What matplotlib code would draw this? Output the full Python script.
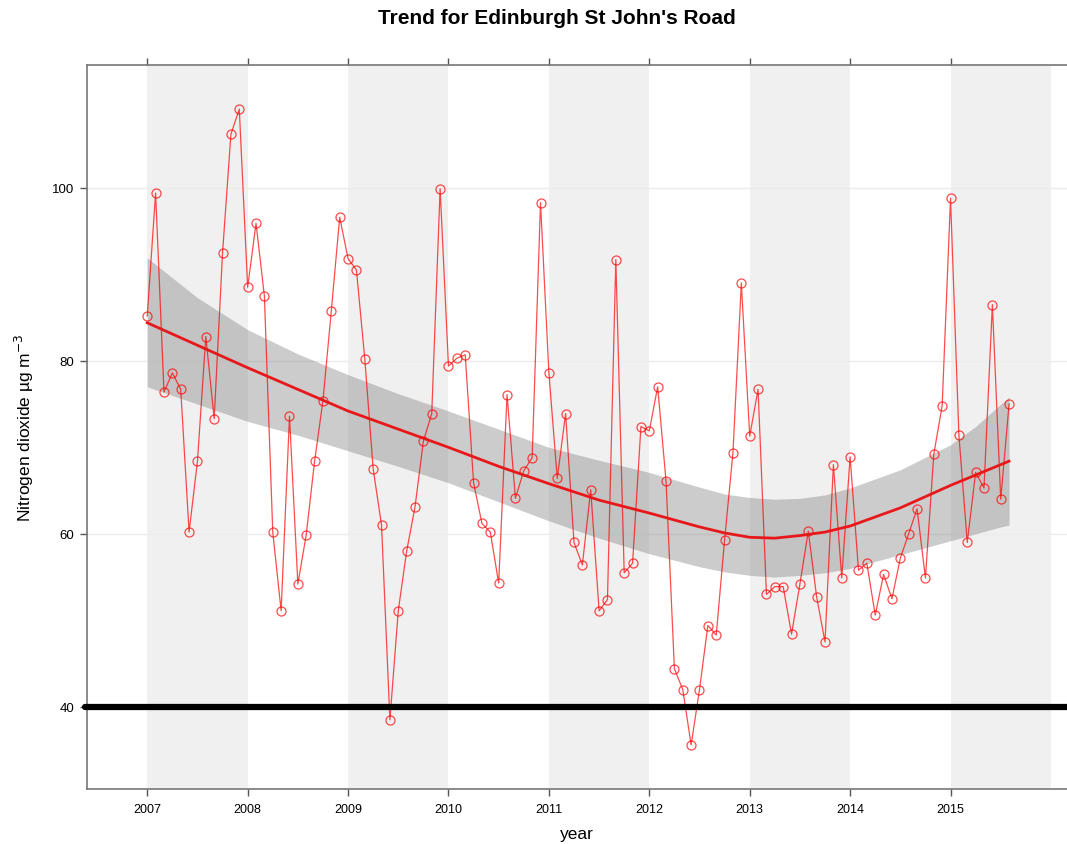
import matplotlib
matplotlib.use("Agg")
import matplotlib.pyplot as plt
import numpy as np

plt.rcParams['font.family'] = ['Liberation Sans', 'DejaVu Sans']

# monthly NO2 means, Jan 2007 .. Aug 2015
no2 = [85.2, 99.4, 76.4, 78.6, 76.7, 60.2, 68.4, 82.8, 73.3, 92.5, 106.2, 109.1,
       88.5, 95.9, 87.5, 60.2, 51.1, 73.6, 54.2, 59.9, 68.4, 75.4, 85.8, 96.6,
       91.8, 90.5, 80.2, 67.5, 61.0, 38.5, 51.1, 58.0, 63.1, 70.7, 73.9, 99.9,
       79.4, 80.3, 80.7, 65.9, 61.2, 60.2, 54.3, 76.1, 64.1, 67.3, 68.8, 98.3,
       78.6, 66.4, 73.9, 59.0, 56.4, 65.1, 51.1, 52.4, 91.7, 55.5, 56.6, 72.4,
       71.9, 77.0, 66.1, 44.4, 42.0, 35.6, 42.0, 49.4, 48.3, 59.3, 69.4, 89.0,
       71.3, 76.7, 53.0, 53.9, 53.9, 48.4, 54.2, 60.3, 52.7, 47.5, 68.0, 54.9,
       68.9, 55.8, 56.6, 50.6, 55.3, 52.5, 57.2, 60.0, 62.9, 54.9, 69.2, 74.8,
       98.8, 71.4, 59.0, 67.1, 65.3, 86.5, 64.0, 75.0]
start_year = 2007

trend_t = [2007.0, 2007.5, 2008.0, 2008.5, 2009.0, 2009.5, 2010.0, 2010.5, 2011.0,
           2011.5, 2012.0, 2012.5, 2012.75, 2013.0, 2013.25, 2013.5, 2013.75, 2014.0,
           2014.5, 2015.0, 2015.25, 2015.5, 2015.583]
trend = [84.4, 81.8, 79.2, 76.7, 74.2, 72.1, 70.0, 67.8, 65.8,
         63.9, 62.4, 60.8, 60.1, 59.6, 59.5, 59.8, 60.2, 60.9,
         63.0, 65.6, 66.8, 68.0, 68.4]
upper = [91.9, 87.3, 83.6, 80.8, 78.4, 76.2, 74.2, 72.1, 70.0,
         68.5, 67.1, 65.4, 64.6, 64.2, 64.0, 64.1, 64.5, 65.3,
         67.4, 70.3, 72.4, 75.0, 75.8]
lower = [77.0, 75.0, 73.0, 71.4, 69.6, 67.8, 65.9, 63.7, 61.5,
         59.5, 57.7, 56.2, 55.6, 55.2, 55.0, 55.2, 55.5, 56.0,
         57.6, 59.2, 60.0, 60.8, 61.0]

years = list(range(2007, 2016))
yticks = [40, 60, 80, 100]
limit = 40

t = start_year + np.arange(len(no2)) / 12.0

fig = plt.figure(figsize=(10.67, 8.45), dpi=100)
ax = fig.add_axes([87/1067, 55/845, 1 - 87/1067, 724/845])

# alternate year shading
for y in years[::2]:
    ax.axvspan(y, y + 1, color='#f0f0f0', lw=0, zorder=0)
for v in yticks:
    ax.axhline(v, color='#ebebeb', lw=1, zorder=0.5)

ax.fill_between(trend_t, lower, upper, color='#808080', alpha=0.4, lw=0, zorder=1)
ax.plot(t, no2, color='#ff0000', lw=0.9, alpha=0.7, marker='o', ms=6.5,
        mfc='none', mec='#ff0000', mew=0.9, zorder=2)
ax.plot(trend_t, trend, color='#e8181a', lw=2, zorder=3)
ax.axhline(limit, color='black', lw=4.5, solid_capstyle='round', zorder=4,
           xmin=-0.002, xmax=1.0, clip_on=False)

ax.set_xlim(2006.40, 2016.16)
ax.set_ylim(30.5, 114.2)
ax.set_xticks(years)
ax.set_xticklabels([str(y) for y in years], fontsize=9)
ax.set_yticks(yticks)
ax.set_yticklabels([str(v) for v in yticks], fontsize=9.5)
ax.tick_params(axis='x', direction='out', length=5, top=True, width=1, color='#555555', pad=5)
ax.tick_params(axis='y', direction='out', length=5, width=1, color='#555555', pad=4)
for s in ['left', 'bottom', 'top']:
    ax.spines[s].set_color('#777777')
    ax.spines[s].set_linewidth(1.2)
ax.spines['right'].set_visible(False)

ax.set_xlabel('year', fontsize=12.5, labelpad=8)
ax.set_ylabel('Nitrogen dioxide µg m$^{-3}$', fontsize=12.5, labelpad=12)
fig.text(557/1067, 1 - 19/845, "Trend for Edinburgh St John's Road", ha='center',
         va='center', fontsize=15, fontweight='bold')

fig.savefig('out.png', dpi=100)
